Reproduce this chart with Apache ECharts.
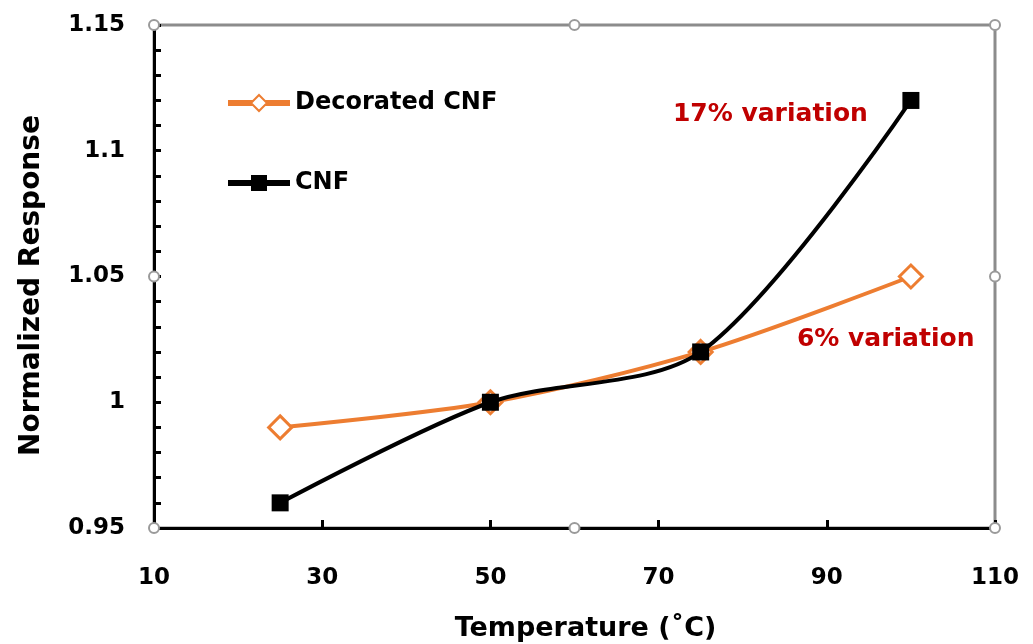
<!DOCTYPE html>
<html>
<head>
<meta charset="utf-8">
<script src="https://cdn.jsdelivr.net/npm/echarts@6/dist/echarts.min.js"></script>
<style>
  html, body { margin: 0; padding: 0; background: #fff; }
  #chart { width: 1033px; height: 644px; }
</style>
</head>
<body>
<div id="chart"></div>
<script>
// Dữ liệu
const temperatures = [25, 50, 75, 100];
const decoratedCnf = [0.99, 1.0, 1.02, 1.05];
const cnf = [0.96, 1.0, 1.02, 1.12];
const seriesNames = ['Decorated CNF', 'CNF'];
const notes = ['17% variation', '6% variation'];

const FONT = '"DejaVu Sans", "Open Sans", sans-serif';
const myChart = echarts.init(document.getElementById('chart'));

const toPairs = (xs, ys) => xs.map((x, i) => [x, ys[i]]);

const option = {
    backgroundColor: '#fff',
    animation: false,
    textStyle: { fontFamily: FONT },
    grid: {
        left: 154, right: 38, top: 25, bottom: 116,
        outerBoundsMode: 'none',
        show: true, borderColor: '#8c8c8c', borderWidth: 3
    },
    legend: {
        orient: 'vertical',
        left: 220, top: 86,
        itemGap: 56,
        itemWidth: 62, itemHeight: 20,
        textStyle: { fontFamily: FONT, fontSize: 24, fontWeight: 'bold', color: '#000' },
        data: [
            { name: seriesNames[0], lineStyle: { width: 6 } },
            { name: seriesNames[1], lineStyle: { width: 6 } }
        ]
    },
    xAxis: {
        type: 'value',
        min: 10, max: 110, interval: 20,
        name: 'Temperature (˚C)',
        nameLocation: 'middle',
        nameGap: 87,
        nameTextStyle: { fontFamily: FONT, fontSize: 27, fontWeight: 'bold', color: '#000', padding: [0, 0, 0, 22] },
        axisLine: { lineStyle: { color: '#000', width: 3 } },
        axisTick: { inside: true, length: 8, lineStyle: { color: '#000', width: 3 } },
        axisLabel: { margin: 39, fontSize: 23, fontWeight: 'bold', color: '#000' },
        splitLine: { show: false }
    },
    yAxis: {
        type: 'value',
        min: 0.95, max: 1.15, interval: 0.05,
        name: 'Normalized Response',
        nameLocation: 'middle',
        nameGap: 92,
        nameTextStyle: { fontFamily: FONT, fontSize: 28, fontWeight: 'bold', color: '#000', padding: [0, 18, 16, 0] },
        axisLine: { lineStyle: { color: '#000', width: 3 } },
        axisTick: { inside: true, length: 7, lineStyle: { color: '#000', width: 3 } },
        minorTick: { show: true, splitNumber: 5, length: 7, lineStyle: { color: '#000', width: 3 } },
        axisLabel: { margin: 29, fontSize: 23, fontWeight: 'bold', color: '#000' },
        splitLine: { show: false }
    },
    series: [
        {
            name: seriesNames[0],
            type: 'line',
            smooth: 0.3,
            data: toPairs(temperatures, decoratedCnf),
            symbol: 'diamond',
            symbolSize: 23,
            lineStyle: { color: '#ED7D31', width: 4 },
            itemStyle: { color: '#fff', borderColor: '#ED7D31', borderWidth: 3 },
            z: 2
        },
        {
            name: seriesNames[1],
            type: 'line',
            smooth: 0.3,
            data: toPairs(temperatures, cnf),
            symbol: 'rect',
            symbolSize: 17,
            lineStyle: { color: '#000', width: 4 },
            itemStyle: { color: '#000' },
            z: 3
        }
    ]
};
myChart.setOption(option);

// Nhãn chú thích và các tay cầm khung (vị trí tính từ toạ độ trục)
const px = (x, y) => myChart.convertToPixel({ gridIndex: 0 }, [x, y]);
const [x0, y0] = px(10, 0.95);
const [x1, y1] = px(110, 1.15);
const xm = (x0 + x1) / 2, ym = (y0 + y1) / 2;
const handles = [[x0, y1], [xm, y1], [x1, y1], [x0, ym], [x1, ym], [x0, y0], [xm, y0], [x1, y0]];
const p17 = px(100, 1.12);
const p6 = px(100, 1.05);

myChart.setOption({
    graphic: [
        {
            type: 'text', left: p17[0] - 238, top: p17[1] + 2,
            style: { text: notes[0], font: 'bold 25px ' + FONT, fill: '#C00000' }
        },
        {
            type: 'text', left: p6[0] - 114, top: p6[1] + 50,
            style: { text: notes[1], font: 'bold 25px ' + FONT, fill: '#C00000' }
        },
        ...handles.map(([cx, cy]) => ({
            type: 'circle', shape: { cx, cy, r: 5 }, z: 100,
            style: { fill: '#fff', stroke: '#9a9a9a', lineWidth: 2 }
        }))
    ]
});

window.addEventListener('resize', () => myChart.resize());
</script>
</body>
</html>
